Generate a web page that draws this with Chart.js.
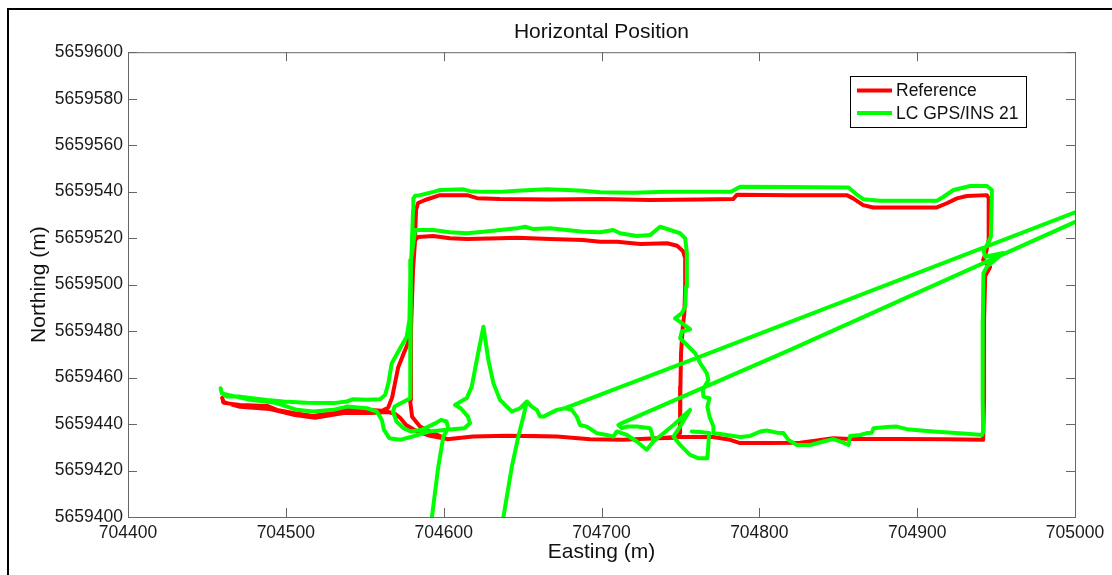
<!DOCTYPE html>
<html>
<head>
<meta charset="utf-8">
<title>Horizontal Position</title>
<script src="https://cdn.jsdelivr.net/npm/chart.js@4.4.1/dist/chart.umd.min.js"></script>
<style>
  html, body { margin: 0; padding: 0; background: #fff; }
  #wrap { width: 1112px; height: 575px; }
</style>
</head>
<body>
<div id="wrap"><canvas id="chartPos" width="1112" height="575"></canvas></div>
<script>
/* ------------------------------------------------------------
   1. DATA — [easting, northing] in metres, null = gap in track
------------------------------------------------------------ */

const referenceTrack = [
  // west road, heading east
  [704459.6,5659451.3],[704460.8,5659449.1],[704471.0,5659448.2],[704488.1,5659447.8],[704494.4,5659446.1],
  [704504.6,5659444.8],[704517.2,5659443.5],[704529.9,5659444.8],[704536.2,5659446.1],[704551.5,5659446.1],
  [704561.0,5659445.7],
  // curve up into west side
  [704564.8,5659447.0],[704567.3,5659451.3],[704569.2,5659457.7],[704571.1,5659464.2],[704574.3,5659469.7],
  [704577.4,5659474.9],[704579.3,5659480.5],[704579.3,5659493.4],[704580.6,5659506.3],[704581.9,5659520.5],
  [704582.5,5659532.1],
  // north side
  [704583.8,5659535.1],[704588.2,5659536.4],[704597.7,5659538.5],[704614.8,5659538.5],[704621.2,5659537.2],
  [704635.7,5659536.8],[704667.4,5659536.6],[704699.1,5659536.8],[704730.8,5659536.4],[704762.5,5659536.6],
  [704783.4,5659536.8],[704785.9,5659538.7],[704819.5,5659538.5],[704855.4,5659538.5],[704859.4,5659537.1],
  [704865.8,5659534.2],[704872.1,5659533.2],[704912.5,5659533.2],[704918.8,5659535.0],[704925.2,5659537.1],
  [704931.5,5659538.1],[704944.2,5659538.5],[704945.3,5659537.2],
  // east side
  [704945.3,5659519.2],[704943.7,5659514.0],[704941.8,5659510.6],[704946.2,5659507.6],[704943.1,5659503.7],
  [704942.4,5659484.8],[704942.4,5659450.4],[704941.8,5659433.2],
  // south side, heading west
  [704919.0,5659433.5],[704889.2,5659433.6],[704857.5,5659433.6],[704846.8,5659433.9],[704835.4,5659432.8],
  [704825.9,5659432.0],[704804.9,5659431.8],[704787.8,5659431.8],[704781.5,5659433.2],[704770.7,5659434.4],
  [704762.5,5659434.4],[704749.8,5659434.5],[704735.2,5659433.9],[704713.7,5659433.2],[704692.8,5659433.5],
  [704671.9,5659434.6],[704656.6,5659434.9],[704640.2,5659435.0],[704618.6,5659434.6],[704602.2,5659433.5],
  [704593.3,5659436.1],[704585.0,5659438.9],[704580.0,5659443.1],[704578.7,5659450.4],
  // west side again, then inner loop
  [704579.3,5659480.5],[704580.6,5659506.3],[704581.9,5659519.2],[704583.8,5659520.5],
  [704593.3,5659520.9],[704604.0,5659519.9],[704614.8,5659519.6],[704635.7,5659519.9],[704646.5,5659520.2],
  [704667.4,5659519.6],[704688.3,5659519.2],[704699.1,5659518.4],[704709.9,5659518.4],[704724.5,5659517.5],
  [704741.6,5659517.8],[704747.9,5659516.7],[704751.7,5659514.4],[704753.0,5659511.4],
  [704753.0,5659499.0],[704752.5,5659487.8],[704751.5,5659481.8],[704750.4,5659470.6],[704750.0,5659456.0],
  [704749.8,5659436.2],[704747.9,5659434.1],
  // back west and out
  [704735.2,5659433.9],[704713.7,5659433.2],[704692.8,5659433.5],[704671.9,5659434.6],[704640.2,5659435.0],
  [704618.6,5659434.6],[704602.2,5659433.5],[704591.4,5659434.9],[704583.8,5659436.6],[704576.2,5659439.6],
  [704572.4,5659442.7],[704569.2,5659444.4],[704564.8,5659445.2],
  [704553.4,5659444.8],[704537.5,5659444.8],[704518.5,5659442.7],[704505.8,5659443.9],[704490.0,5659446.5],
  [704471.0,5659447.4],[704460.2,5659449.5]
];

const gpsInsTrack = [
  // outer loop
  [704458.7,5659455.4],[704459.4,5659453.3],[704462.5,5659451.8],[704471.0,5659451.8],[704487.9,5659450.4],
  [704498.4,5659449.7],[704513.2,5659449.2],[704530.1,5659449.0],[704538.6,5659449.7],[704542.8,5659450.7],
  [704551.3,5659450.4],[704559.7,5659450.7],[704562.9,5659452.5],[704565.0,5659457.6],[704567.1,5659466.2],
  [704572.4,5659472.6],[704576.6,5659477.6],[704578.3,5659484.8],[704578.7,5659497.7],[704579.7,5659514.9],
  [704580.6,5659532.1],[704580.8,5659537.1],[704581.9,5659538.2],[704585.0,5659538.5],[704593.5,5659539.9],
  [704597.7,5659540.7],[704612.5,5659541.0],[704616.7,5659540.2],[704625.2,5659539.9],[704635.7,5659539.9],
  [704646.3,5659540.4],[704665.3,5659541.0],[704678.0,5659540.7],[704688.5,5659540.4],[704699.1,5659539.7],
  [704720.2,5659539.5],[704741.4,5659539.9],[704762.5,5659539.9],[704782.1,5659540.0],[704787.8,5659542.1],
  [704819.5,5659542.0],[704856.5,5659541.8],[704860.7,5659539.3],[704866.0,5659536.7],[704876.5,5659536.1],
  [704912.5,5659536.1],[704916.7,5659537.8],[704923.0,5659540.7],[704933.6,5659542.4],[704944.2,5659542.4],
  [704947.3,5659540.7],[704947.3,5659537.8],[704946.7,5659520.6],[704944.2,5659517.0],[704942.0,5659514.9],
  [704943.1,5659512.0],[704954.5,5659513.6],[704944.2,5659507.7],[704942.0,5659504.9],[704941.6,5659484.8],
  [704941.5,5659450.4],[704941.8,5659436.6],[704941.0,5659435.3],[704931.5,5659435.8],[704910.3,5659436.8],
  [704893.5,5659437.8],[704887.1,5659438.9],[704880.8,5659438.7],[704872.3,5659438.2],[704871.3,5659436.3],
  [704868.1,5659436.1],[704863.9,5659435.3],[704857.5,5659434.9],[704856.5,5659431.0],[704853.3,5659432.0],
  [704846.9,5659433.5],[704840.6,5659432.5],[704832.2,5659431.0],[704823.8,5659431.0],[704818.4,5659433.2],
  [704815.3,5659436.1],[704811.1,5659436.3],[704804.7,5659437.2],[704800.5,5659436.8],[704794.2,5659434.9],
  [704787.8,5659434.4],[704779.4,5659435.3],[704770.9,5659436.1],
  // up the inner east side
  [704770.9,5659438.9],[704768.4,5659443.2],[704767.1,5659447.5],[704768.4,5659451.1],[704764.6,5659451.8],
  [704764.2,5659454.7],[704767.7,5659459.0],[704766.7,5659461.9],[704762.5,5659466.2],[704759.3,5659470.5],
  [704754.1,5659474.0],[704749.8,5659476.9],[704750.9,5659479.8],[704756.1,5659480.8],[704750.9,5659483.4],
  [704746.6,5659485.5],[704750.9,5659487.7],[704753.0,5659490.5],[704753.6,5659499.1],[704754.1,5659513.5],
  [704753.0,5659519.9],
  // inner north side, heading west
  [704749.8,5659522.1],[704743.5,5659523.5],[704737.1,5659524.9],[704730.8,5659521.3],[704722.4,5659520.9],
  [704711.8,5659522.1],[704707.5,5659523.5],[704699.1,5659522.5],[704688.5,5659522.7],[704678.0,5659523.5],
  [704667.4,5659524.2],[704656.8,5659523.9],[704651.6,5659524.9],[704646.3,5659524.2],[704635.7,5659523.5],
  [704625.2,5659522.7],[704614.6,5659522.1],[704604.0,5659522.5],[704593.5,5659523.5],[704581.9,5659523.5],
  // down the west side and out to the south
  [704579.3,5659510.6],[704578.7,5659493.4],[704578.7,5659471.9],[704579.1,5659451.1],
  [704568.9,5659447.5],[704567.9,5659445.4],[704570.1,5659441.1],[704574.6,5659438.2],[704579.1,5659436.8],
  [704585.9,5659437.5],[704595.0,5659440.4],[704598.3,5659441.8],[704601.8,5659441.1],[704602.9,5659438.2],
  [704599.8,5659434.6],[704596.6,5659421.7],[704592.5,5659399.7],[704591.4,5659394.5],
  null,
  // second pass on the west road, spike and south side
  [704460.8,5659453.0],[704477.3,5659450.4],[704494.2,5659449.0],[704506.9,5659446.1],[704517.4,5659445.4],
  [704530.1,5659446.1],[704538.6,5659447.5],[704551.3,5659446.8],[704557.6,5659445.4],[704560.8,5659441.8],
  [704562.2,5659437.5],[704565.6,5659433.9],[704572.4,5659433.2],[704579.1,5659434.4],[704590.5,5659436.8],
  [704601.8,5659437.5],[704613.1,5659438.2],[704616.7,5659440.4],[704615.4,5659443.2],[704610.8,5659446.8],
  [704607.2,5659448.2],[704612.5,5659450.4],[704614.6,5659451.1],[704617.8,5659456.1],[704621.0,5659467.6],
  [704625.2,5659481.9],[704628.3,5659467.6],[704631.5,5659457.6],[704635.7,5659450.4],[704640.0,5659447.5],
  [704643.2,5659445.4],[704648.4,5659446.8],[704652.7,5659449.7],[704655.8,5659447.5],[704659.0,5659446.1],
  [704661.1,5659443.2],[704663.2,5659443.2],[704671.7,5659446.1],[704676.9,5659446.8],[704681.2,5659446.1],
  [704684.3,5659443.2],[704686.4,5659439.6],[704690.7,5659438.9],[704697.0,5659436.1],[704703.4,5659435.3],
  [704707.5,5659434.6],[704709.7,5659436.8],[704716.0,5659435.3],[704722.4,5659432.5],[704728.7,5659428.9],
  [704732.9,5659432.5],[704745.6,5659439.6],[704756.1,5659446.1],[704749.8,5659438.9],[704745.6,5659434.6],
  [704749.8,5659431.0],[704756.1,5659426.7],[704761.2,5659425.3],[704767.1,5659425.3],[704767.7,5659431.0],
  [704768.2,5659436.2],[704762.5,5659436.6],[704757.2,5659436.8],
  null,
  // southbound exit from the spike
  [704652.7,5659449.7],[704650.5,5659443.2],[704647.3,5659434.6],[704643.2,5659421.7],[704637.8,5659399.7],
  [704636.8,5659394.5],
  null,
  // long jumps to the north-east
  [704676.9,5659446.8],[704762.5,5659469.0],[705010.0,5659533.7],
  null,
  [705010.0,5659530.0],[704819.5,5659471.9],[704712.9,5659440.4],[704710.7,5659439.6],[704712.9,5659438.2],
  [704716.0,5659438.9],[704722.4,5659438.9],[704730.8,5659438.2],[704731.9,5659436.1],[704732.9,5659432.5]
];

const xRange = [704400, 705000];
const yRange = [5659400, 5659600];
const xStep = 100;
const yStep = 20;


/* ------------------------------------------------------------
   2. HELPERS
------------------------------------------------------------ */

const FONT = "'Liberation Sans', Arial, Helvetica, sans-serif";
Chart.defaults.font.family = FONT;

function toPoints(track) {
  return track.map(p => p ? { x: p[0], y: p[1] } : { x: null, y: null });
}

/* MATLAB style box: figure frame, grey axes box, inward ticks, legend */
const matlabBox = {
  id: "matlabBox",
  afterDraw(chart) {
    const { ctx, chartArea: a, scales } = chart;
    ctx.save();

    // figure frame
    ctx.strokeStyle = "#000";
    ctx.lineWidth = 2;
    ctx.beginPath();
    ctx.moveTo(8, 575);
    ctx.lineTo(8, 9);
    ctx.lineTo(1112, 9);
    ctx.stroke();

    // axes box
    ctx.strokeStyle = "#666";
    ctx.lineWidth = 1;
    ctx.strokeRect(a.left + 0.5, a.top + 0.5, a.right - a.left, a.bottom - a.top);

    // inward ticks
    const len = 9;
    ctx.beginPath();
    scales.x.ticks.forEach(t => {
      const px = Math.round(scales.x.getPixelForValue(t.value)) + 0.5;
      ctx.moveTo(px, a.bottom); ctx.lineTo(px, a.bottom - len);
      ctx.moveTo(px, a.top);    ctx.lineTo(px, a.top + len);
    });
    scales.y.ticks.forEach(t => {
      const py = Math.round(scales.y.getPixelForValue(t.value)) + 0.5;
      ctx.moveTo(a.left, py);  ctx.lineTo(a.left + len, py);
      ctx.moveTo(a.right, py); ctx.lineTo(a.right - len, py);
    });
    ctx.stroke();

    // legend
    const lx = 850, ly = 76, lw = 176, lh = 51;
    ctx.fillStyle = "#fff";
    ctx.fillRect(lx, ly, lw, lh);
    ctx.strokeStyle = "#000";
    ctx.strokeRect(lx + 0.5, ly + 0.5, lw, lh);
    ctx.font = "17.5px " + FONT;
    ctx.textBaseline = "middle";
    chart.data.datasets.forEach((ds, i) => {
      const y = ly + 14.5 + i * 22.5;
      ctx.strokeStyle = ds.borderColor;
      ctx.lineWidth = 4;
      ctx.beginPath();
      ctx.moveTo(lx + 7, y); ctx.lineTo(lx + 42, y);
      ctx.stroke();
      ctx.fillStyle = "#111";
      ctx.fillText(ds.label, lx + 46, y + 1);
    });

    ctx.restore();
  }
};


/* ------------------------------------------------------------
   3. CHART
------------------------------------------------------------ */

new Chart(document.getElementById("chartPos"), {
  type: "scatter",
  data: {
    datasets: [
      {
        label: "Reference",
        data: toPoints(referenceTrack),
        borderColor: "#ff0000",
        borderWidth: 4,
        order: 2
      },
      {
        label: "LC GPS/INS 21",
        data: toPoints(gpsInsTrack),
        borderColor: "#00ff00",
        borderWidth: 4,
        order: 1
      }
    ].map(ds => Object.assign(ds, {
      showLine: true,
      spanGaps: false,
      pointRadius: 0,
      pointHoverRadius: 0,
      borderJoinStyle: "round",
      borderCapStyle: "round",
      clip: 0
    }))
  },
  options: {
    responsive: false,
    animation: false,
    events: [],
    layout: { padding: { left: 0, right: 37, top: 0, bottom: 0 } },
    plugins: {
      legend: { display: false },
      tooltip: { enabled: false },
      title: {
        display: true,
        fullSize: false,
        text: "Horizontal Position",
        color: "#111",
        font: { size: 21, weight: "normal" },
        padding: { top: 20, bottom: 7 }
      }
    },
    scales: {
      x: {
        type: "linear",
        min: xRange[0],
        max: xRange[1],
        grid: { display: false, drawTicks: false },
        border: { display: false },
        ticks: {
          stepSize: xStep,
          autoSkip: false,
          maxRotation: 0,
          padding: 6,
          color: "#1a1a1a",
          font: { size: 17.5 },
          callback: v => String(Math.round(v))
        },
        title: {
          display: true,
          text: "Easting (m)",
          color: "#111",
          font: { size: 21 },
          padding: { top: 0, bottom: 10 }
        },
        afterFit(s) { s.height = 58; }
      },
      y: {
        type: "linear",
        min: yRange[0],
        max: yRange[1],
        grid: { display: false, drawTicks: false },
        border: { display: false },
        ticks: {
          stepSize: yStep,
          autoSkip: false,
          padding: 5,
          color: "#1a1a1a",
          font: { size: 17.5 },
          callback: v => String(Math.round(v))
        },
        title: {
          display: true,
          text: "Northing (m)",
          color: "#111",
          font: { size: 21 },
          padding: { top: 27, bottom: 0 }
        },
        afterFit(s) { s.width = 128; }
      }
    }
  },
  plugins: [matlabBox]
});
</script>
</body>
</html>
